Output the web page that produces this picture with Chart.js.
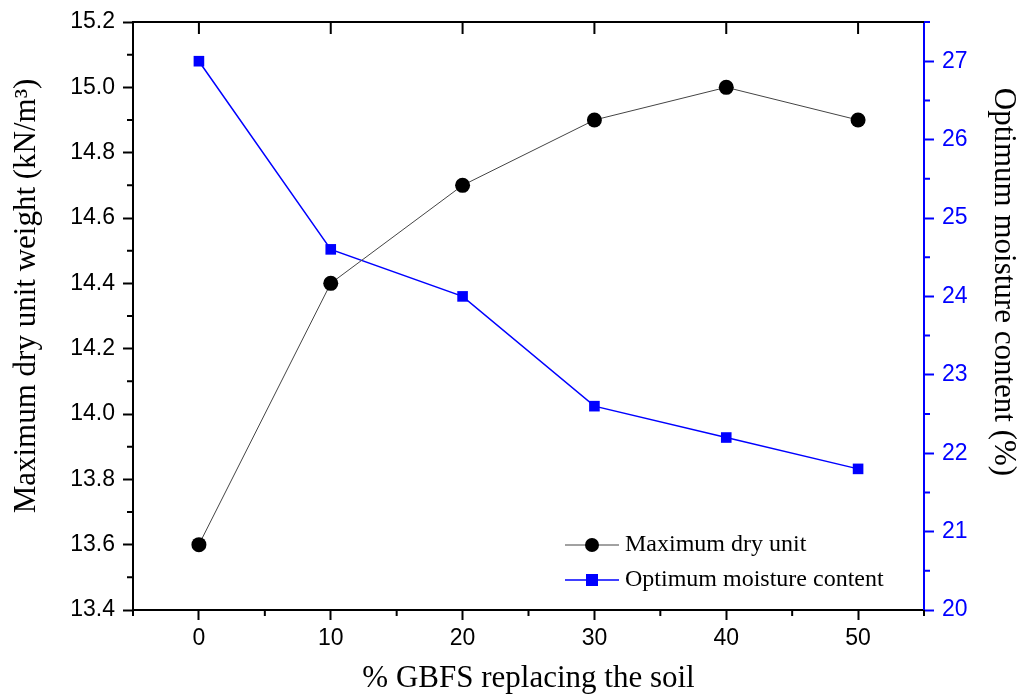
<!DOCTYPE html>
<html>
<head>
<meta charset="utf-8">
<script src="https://cdn.jsdelivr.net/npm/chart.js@4.4.0/dist/chart.umd.min.js"></script>
<style>
  html, body { margin: 0; padding: 0; background: #fff; }
  #wrap { width: 1021px; height: 697px; }
</style>
</head>
<body>
<div id="wrap"><canvas id="myChart" width="1021" height="697"></canvas></div>
<script>
'use strict';

// data
let gbfs = [0, 10, 20, 30, 40, 50];
let dryUnit = [13.6, 14.4, 14.7, 14.9, 15.0, 14.9];
let moisture = [27.0, 24.6, 24.0, 22.6, 22.2, 21.8];
let xTicks = [0, 10, 20, 30, 40, 50];
let leftTicks = [13.4, 13.6, 13.8, 14.0, 14.2, 14.4, 14.6, 14.8, 15.0, 15.2];
let rightTicks = [20, 21, 22, 23, 24, 25, 26, 27];
let leftTitle = 'Maximum dry unit weight (kN/m\u00b3)';
let rightTitle = 'Optimum moisture content (%)';

const BLUE = '#0000ff';
const tickFont = { family: 'Liberation Sans', size: 23 };
const titleFont = { family: 'Liberation Serif', size: 31 };

function pts(xs, ys) {
  return xs.map((x, i) => ({ x: x, y: ys[i] }));
}

// minor ticks, top ticks, top border, y titles and the legend
const extras = {
  id: 'extras',
  afterDraw(chart) {
    const ctx = chart.ctx;
    const a = chart.chartArea;
    const sx = chart.scales.x, sl = chart.scales.yL, sr = chart.scales.yR;
    ctx.save();
    ctx.lineWidth = 2;

    // top border
    ctx.strokeStyle = '#000';
    ctx.beginPath();
    ctx.moveTo(a.left, a.top);
    ctx.lineTo(a.right, a.top);
    ctx.stroke();

    ctx.beginPath();
    // top major ticks, pointing in
    xTicks.forEach(v => {
      const px = sx.getPixelForValue(v);
      ctx.moveTo(px, a.top);
      ctx.lineTo(px, a.top + 12);
    });
    // bottom minor ticks
    for (let v = -5; v <= 55; v += 10) {
      const px = sx.getPixelForValue(v);
      ctx.moveTo(px, a.bottom);
      ctx.lineTo(px, a.bottom + 6);
    }
    // left minor ticks
    for (let i = 0; i < leftTicks.length - 1; i++) {
      const py = sl.getPixelForValue((leftTicks[i] + leftTicks[i + 1]) / 2);
      ctx.moveTo(a.left, py);
      ctx.lineTo(a.left - 6, py);
    }
    ctx.stroke();

    // right minor ticks
    ctx.strokeStyle = BLUE;
    ctx.beginPath();
    rightTicks.forEach(v => {
      const py = sr.getPixelForValue(v + 0.5);
      ctx.moveTo(a.right, py);
      ctx.lineTo(a.right + 6, py);
    });
    ctx.stroke();

    // y axis titles (a bit above the middle, like the original)
    ctx.fillStyle = '#000';
    ctx.font = '31px "Liberation Serif"';
    ctx.textAlign = 'center';
    ctx.textBaseline = 'middle';
    ctx.save();
    ctx.translate(27, 296);
    ctx.rotate(-Math.PI / 2);
    ctx.fillText(leftTitle, 0, 0);
    ctx.restore();
    ctx.save();
    ctx.translate(1003, 282);
    ctx.rotate(Math.PI / 2);
    ctx.fillText(rightTitle, 0, 0);
    ctx.restore();

    // legend
    const items = [
      { y: 545, ds: chart.data.datasets[0] },
      { y: 580, ds: chart.data.datasets[1] }
    ];
    ctx.font = '24px "Liberation Serif"';
    ctx.textAlign = 'left';
    items.forEach(it => {
      ctx.strokeStyle = it.ds.borderColor;
      ctx.lineWidth = it.ds.borderWidth;
      ctx.beginPath();
      ctx.moveTo(565, it.y);
      ctx.lineTo(619, it.y);
      ctx.stroke();
      ctx.fillStyle = it.ds.pointBackgroundColor;
      if (it.ds.pointStyle === 'rect') {
        ctx.fillRect(592 - 6, it.y - 6, 12, 12);
      } else {
        ctx.beginPath();
        ctx.arc(592, it.y, 7, 0, Math.PI * 2);
        ctx.fill();
      }
      ctx.fillStyle = '#000';
      ctx.fillText(it.ds.label, 625, it.y);
    });
    ctx.restore();
  }
};

let ctx = document.getElementById('myChart').getContext('2d');
let myChart = new Chart(ctx, {
  type: 'line',
  data: {
    datasets: [{
      label: 'Maximum dry unit',
      data: pts(gbfs, dryUnit),
      yAxisID: 'yL',
      borderColor: '#444',
      borderWidth: 1,
      pointStyle: 'circle',
      pointRadius: 7.5,
      pointBackgroundColor: '#000',
      pointBorderColor: '#000',
      pointBorderWidth: 0
    }, {
      label: 'Optimum moisture content',
      data: pts(gbfs, moisture),
      yAxisID: 'yR',
      borderColor: BLUE,
      borderWidth: 1.5,
      pointStyle: 'rect',
      pointRadius: 7.5,
      pointBackgroundColor: BLUE,
      pointBorderColor: BLUE,
      pointBorderWidth: 0
    }]
  },
  options: {
    responsive: false,
    animation: false,
    layout: { padding: { top: 22, left: 0, right: 0, bottom: 0 } },
    plugins: {
      legend: { display: false },
      tooltip: { enabled: false }
    },
    scales: {
      x: {
        type: 'linear',
        position: 'bottom',
        min: -5,
        max: 55,
        afterBuildTicks: s => { s.ticks = xTicks.map(v => ({ value: v })); },
        afterFit: s => { s.height = 87; },
        grid: { drawOnChartArea: false, tickLength: 10, tickWidth: 2, tickColor: '#000' },
        border: { color: '#000', width: 2 },
        ticks: { font: tickFont, color: '#000', padding: 5 },
        title: { display: true, text: '% GBFS replacing the soil', font: titleFont, color: '#000', padding: { top: 0, bottom: 0 } }
      },
      yL: {
        type: 'linear',
        position: 'left',
        min: 13.4,
        max: 15.2,
        afterBuildTicks: s => { s.ticks = leftTicks.map(v => ({ value: v })); },
        afterFit: s => { s.width = 133; },
        grid: { drawOnChartArea: false, tickLength: 10, tickWidth: 2, tickColor: '#000' },
        border: { color: '#000', width: 2 },
        ticks: { font: tickFont, color: '#000', padding: 8, callback: v => v.toFixed(1) }
      },
      yR: {
        type: 'linear',
        position: 'right',
        min: 20,
        max: 27.5,
        afterBuildTicks: s => { s.ticks = rightTicks.map(v => ({ value: v })); },
        afterFit: s => { s.width = 97; },
        grid: { drawOnChartArea: false, tickLength: 10, tickWidth: 2, tickColor: BLUE },
        border: { color: BLUE, width: 2 },
        ticks: { font: tickFont, color: BLUE, padding: 8 }
      }
    }
  },
  plugins: [extras]
});
</script>
</body>
</html>
